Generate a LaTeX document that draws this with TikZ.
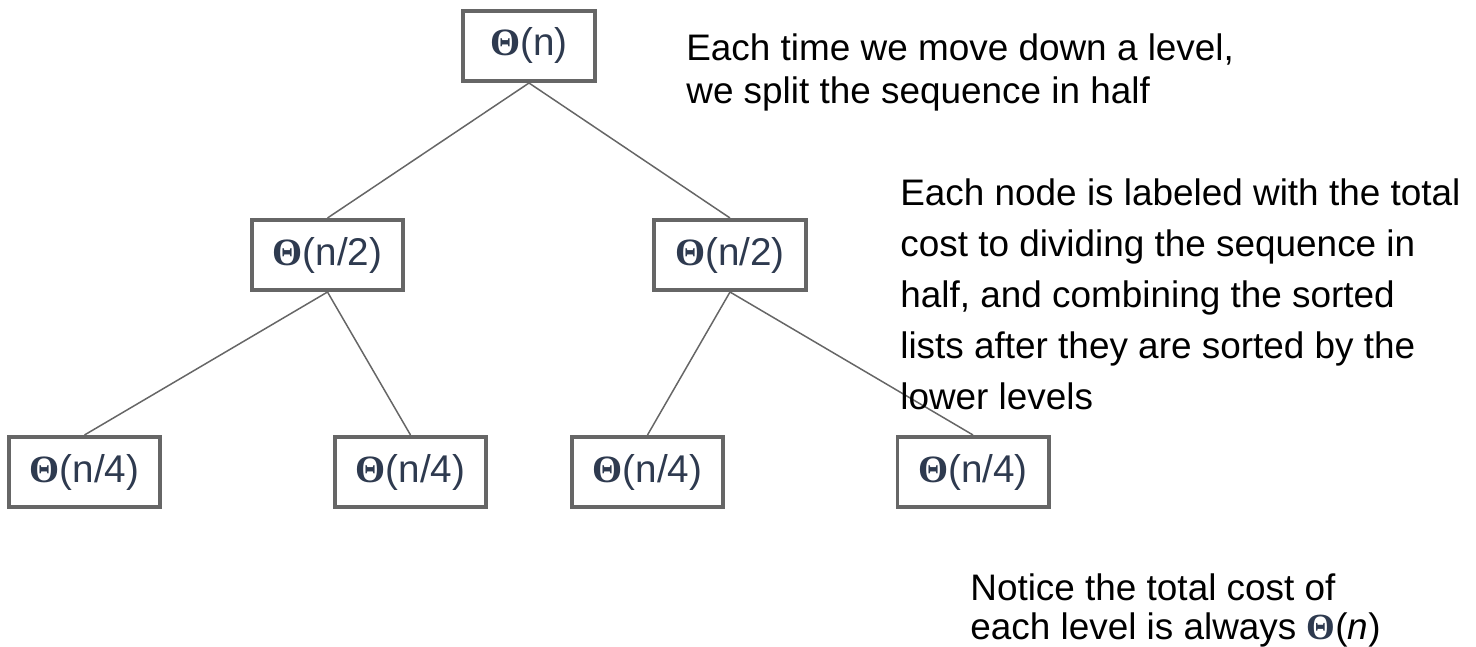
\documentclass[tikz,border=0pt]{standalone}
\usepackage{fontspec}
\setmainfont{Liberation Sans}
\newfontfamily\thetafont{Liberation Serif}
\definecolor{boxline}{HTML}{666666}
\definecolor{costtext}{HTML}{2E3A4F}
\newcommand{\bigtheta}{\textcolor{costtext}{\thetafont\bfseries Θ}}
\tikzset{
  cost/.style={draw=boxline, line width=2pt, minimum width=3.03cm, minimum height=1.41cm,
    inner sep=0pt, text=costtext, font=\fontsize{22}{26}\selectfont},
  edge/.style={draw=boxline, line width=0.85pt},
  note/.style={anchor=north west, align=left, inner sep=0pt}
}
\begin{document}
\begin{tikzpicture}[x=1cm,y=1cm]
\useasboundingbox (0,0) rectangle (29.52,-12.94);
\node[cost, minimum width=2.65cm] (root) at (10.58,-0.92) {\bigtheta(n)};
\node[cost] (left) at (6.55,-5.10) {\bigtheta(n/2)};
\node[cost] (right) at (14.60,-5.10) {\bigtheta(n/2)};
\node[cost] (leftleft) at (1.69,-9.44) {\bigtheta(n/4)};
\node[cost] (leftright) at (8.21,-9.44) {\bigtheta(n/4)};
\node[cost] (rightleft) at (12.95,-9.44) {\bigtheta(n/4)};
\node[cost] (rightright) at (19.46,-9.44) {\bigtheta(n/4)};

\draw[edge] (root.south) -- (left.north);
\draw[edge] (root.south) -- (right.north);
\draw[edge] (left.south) -- (leftleft.north);
\draw[edge] (left.south) -- (leftright.north);
\draw[edge] (right.south) -- (rightleft.north);
\draw[edge] (right.south) -- (rightright.north);

\node[note, font=\fontsize{21}{24.4}\selectfont] (split) at (13.72,-0.67)
  {Each time we move down a level,\\ we split the sequence in half};
\node[note, font=\fontsize{21}{29}\selectfont] (label) at (18.00,-3.57)
  {Each node is labeled with the total\\ cost to dividing the sequence in\\ half, and combining the sorted\\ lists after they are sorted by the\\ lower levels};
\node[note, font=\fontsize{21}{22.7}\selectfont] (notice) at (19.40,-11.46)
  {Notice the total cost of\\ each level is always \bigtheta(\textit{n})};
\end{tikzpicture}
\end{document}
